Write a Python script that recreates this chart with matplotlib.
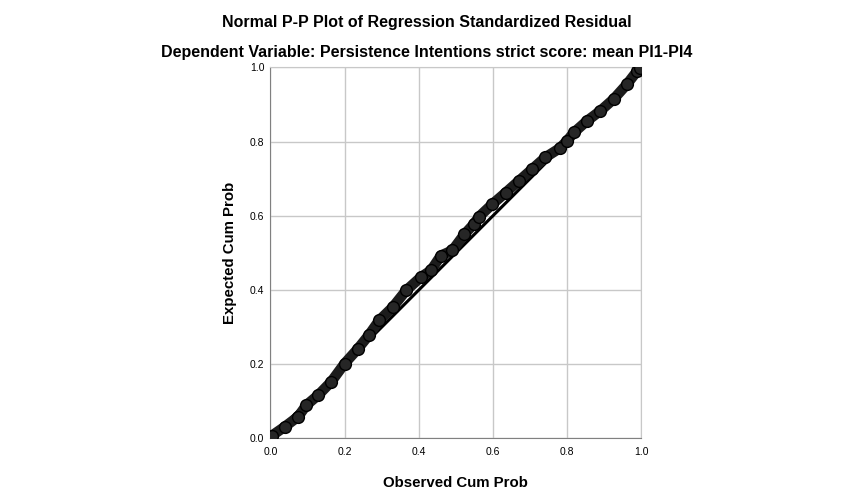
import matplotlib
matplotlib.use("Agg")
import matplotlib.pyplot as plt

plt.rcParams['font.family'] = ['Liberation Sans', 'DejaVu Sans']

# ---------------- data ----------------
observed = [0.0, 0.003, 0.039, 0.075, 0.097, 0.129, 0.164, 0.2, 0.236, 0.265,
            0.294, 0.33, 0.366, 0.406, 0.433, 0.46, 0.491, 0.523, 0.548, 0.563,
            0.599, 0.635, 0.671, 0.706, 0.742, 0.78, 0.8, 0.819, 0.854, 0.89,
            0.926, 0.962, 0.989, 0.998]
expected = [0.002, 0.007, 0.032, 0.059, 0.09, 0.117, 0.153, 0.202, 0.242, 0.278,
            0.319, 0.354, 0.399, 0.435, 0.453, 0.493, 0.507, 0.55, 0.577, 0.598,
            0.632, 0.663, 0.695, 0.726, 0.758, 0.782, 0.802, 0.825, 0.856, 0.883,
            0.915, 0.955, 0.99, 0.998]
ticks = [0.0, 0.2, 0.4, 0.6, 0.8, 1.0]
tick_labels = ["0.0", "0.2", "0.4", "0.6", "0.8", "1.0"]

fig = plt.figure(figsize=(8.54, 5.04), dpi=100)
ax = fig.add_axes([0.3167, 0.13, 0.434, 0.7361])

# reference diagonal
ax.plot([0, 1], [0, 1], color="black", lw=2.2, zorder=2)

# residual points (dense, overlapping circles -> thick dark band)
ax.plot(observed, expected, color="#1c1c1c", lw=7.5, solid_capstyle="round",
        solid_joinstyle="round", zorder=3)
ax.plot(observed, expected, "o", ms=8.5, mfc="#262626", mec="black", mew=1.0, zorder=4)

ax.set_xlim(0, 1)
ax.set_ylim(0, 1)
ax.set_xticks(ticks)
ax.set_yticks(ticks)
ax.set_xticklabels(tick_labels)
ax.set_yticklabels(tick_labels)
ax.tick_params(length=0, labelsize=7.5)
ax.tick_params(axis="x", pad=6)
ax.tick_params(axis="y", pad=4.3)
ax.grid(True, color="#c8c8c8", lw=1)
ax.set_axisbelow(True)

ax.spines["left"].set_color("#808080")
ax.spines["bottom"].set_color("#808080")
ax.spines["top"].set_color("#c8c8c8")
ax.spines["right"].set_color("#c8c8c8")

ax.set_xlabel("Observed Cum Prob", fontsize=10.8, fontweight="bold", labelpad=14)
ax.set_ylabel("Expected Cum Prob", fontsize=10.8, fontweight="bold", labelpad=9)

fig.text(0.5, 1 - 22 / 504, "Normal P-P Plot of Regression Standardized Residual",
         ha="center", va="center", fontsize=11.5, fontweight="bold")
fig.text(0.5, 1 - 53 / 504, "Dependent Variable: Persistence Intentions strict score: mean PI1-PI4",
         ha="center", va="center", fontsize=11.5, fontweight="bold")

fig.savefig("out.png", dpi=100)
